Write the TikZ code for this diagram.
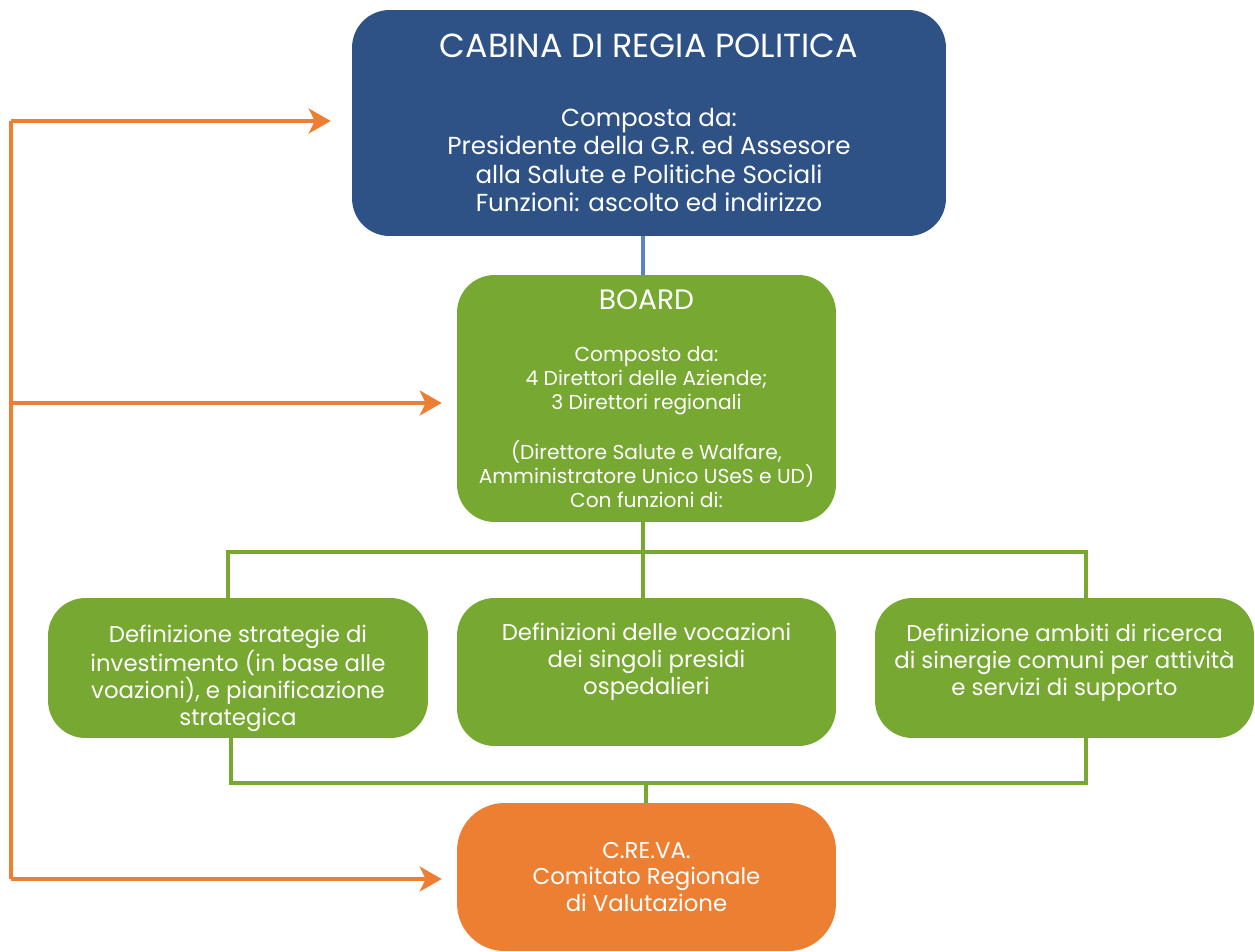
\documentclass[tikz,border=0pt]{standalone}
\usepackage{fontspec}
\setmainfont{Poppins}
\usetikzlibrary{arrows.meta}
\definecolor{regiablue}{HTML}{2F5286}
\definecolor{linkblue}{HTML}{5B83C6}
\definecolor{boardgreen}{HTML}{76A832}
\definecolor{crevaorange}{HTML}{ED7F33}
\begin{document}
\begin{tikzpicture}[x=0.02cm, y=-0.02cm,
    box/.style={rounded corners=0.75cm, align=center, text=white, inner sep=0pt},
    greenline/.style={boardgreen, line width=2pt},
    feed/.style={crevaorange, line width=2pt},
    feedarrow/.style={feed, -{Stealth[length=0.44cm, width=0.5cm, inset=0.12cm]}}]
    \useasboundingbox (0,0) rectangle (1255,951);

    % Cabina di regia
    \node[box, fill=regiablue, minimum width=11.88cm, minimum height=4.52cm,
          font=\fontsize{14}{16.2}\selectfont] (cabina) at (649,123)
        {{\fontsize{19}{16.2}\selectfont CABINA DI REGIA POLITICA}\\[0.8cm]
         Composta da:\\ Presidente della G.R. ed Assesore\\
         alla Salute e Politiche Sociali\\ Funzioni: ascolto ed indirizzo};

    % Board
    \node[box, fill=boardgreen, minimum width=7.58cm, minimum height=4.94cm,
          font=\fontsize{11.5}{13.6}\selectfont] (board) at (646.5,398.5)
        {{\fontsize{16}{13.6}\selectfont BOARD}\\[0.58cm]
         Composto da:\\ 4 Direttori delle Aziende;\\ 3 Direttori regionali\\[0.48cm]
         (Direttore Salute e Walfare,\\ Amministratore Unico USeS e UD)\\ Con funzioni di:};

    % Funzioni
    \node[box, fill=boardgreen, minimum width=7.6cm, minimum height=2.8cm,
          font=\fontsize{13}{15.3}\selectfont] (strategie) at (238,668)
        {Definizione strategie di\\ investimento (in base alle\\
         voazioni), e pianificazione\\ strategica\\[-0.82cm]};
    \node[box, fill=boardgreen, minimum width=7.58cm, minimum height=2.96cm,
          font=\fontsize{13}{15.3}\selectfont] (vocazioni) at (646.5,672)
        {Definizioni delle vocazioni\\ dei singoli presidi\\ ospedalieri\\[-0.02cm]};
    \node[box, fill=boardgreen, minimum width=7.58cm, minimum height=2.8cm,
          font=\fontsize{13}{15.3}\selectfont] (ricerca) at (1064.5,668)
        {Definizione ambiti di ricerca\\ di sinergie comuni per attività\\
         e servizi di supporto\\[-0.22cm]};

    % C.RE.VA.
    \node[box, rounded corners=0.95cm, fill=crevaorange, minimum width=7.58cm,
          minimum height=2.96cm, font=\fontsize{13}{15.3}\selectfont] (creva) at (646.5,877)
        {C.RE.VA.\\ Comitato Regionale\\ di Valutazione};

    % Connectors
    \draw[linkblue, line width=2.6pt] (cabina.south -| 643,0) -- (board.north -| 643,0);
    \coordinate (split) at (643,552);
    \coordinate (join) at (646,783);
    \draw[greenline] (board.south -| split) -- (vocazioni.north -| split);
    \draw[greenline] (split) -| (strategie.north -| 228,0);
    \draw[greenline] (split) -| (ricerca.north -| 1086,0);
    \draw[greenline] (strategie.south -| 231,0) |- (join) -| (ricerca.south -| 1086,0);
    \draw[greenline] (join) -- (creva.north -| join);

    % Feedback rail
    \coordinate (railtop) at (11,121);
    \coordinate (railmid) at (11,403);
    \coordinate (railbot) at (11,879);
    \draw[feed] (railtop) -- (railbot);
    \draw[feedarrow, shorten >=0.42cm] (railtop) -- (railtop -| cabina.west);
    \draw[feedarrow, shorten >=0.3cm] (railmid) -- (railmid -| board.west);
    \draw[feedarrow, shorten >=0.3cm] (railbot) -- (railbot -| creva.west);
\end{tikzpicture}
\end{document}
